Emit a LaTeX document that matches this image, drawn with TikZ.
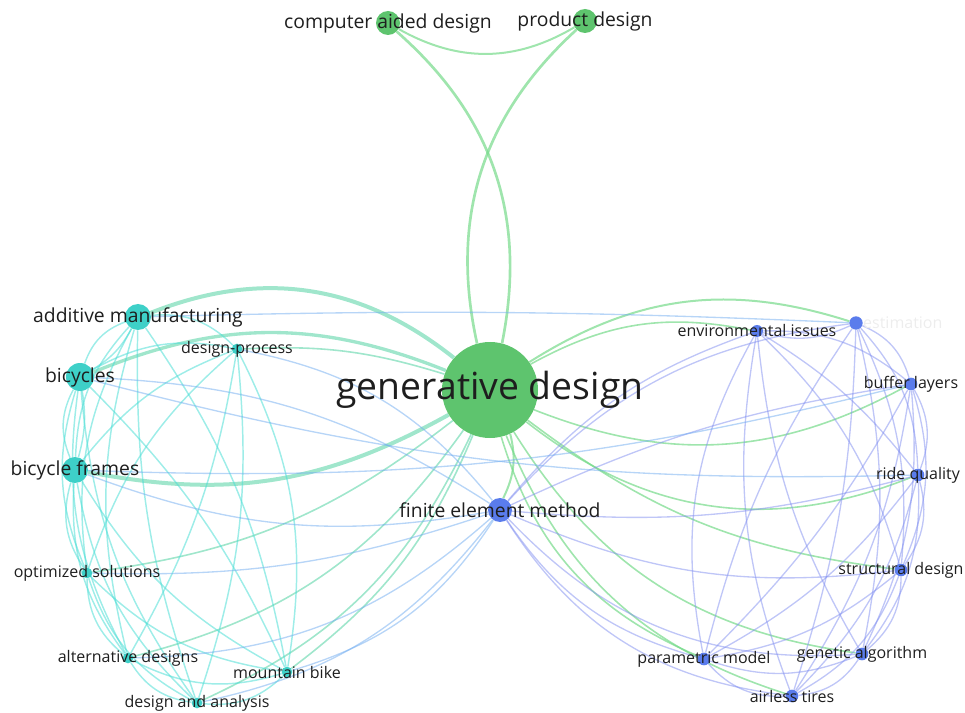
\documentclass[tikz,border=0pt]{standalone}
\usepackage{fontspec}
\setmainfont{Open Sans}
\usetikzlibrary{backgrounds}

\definecolor{gdgreen}{RGB}{94,196,110}
\definecolor{tealnode}{RGB}{62,208,200}
\definecolor{bluenode}{RGB}{90,124,236}
\definecolor{greenline}{RGB}{118,218,138}
\definecolor{mixline}{RGB}{96,214,170}
\definecolor{tealline}{RGB}{78,222,214}
\definecolor{blueline}{RGB}{128,142,240}
\definecolor{crossline}{RGB}{112,172,240}
\definecolor{labeltext}{RGB}{30,30,30}

\begin{document}
\begin{tikzpicture}[x=0.75pt,y=-0.75pt,
  kw/.style={circle,inner sep=0pt,minimum size=#1},
  gkw/.style={kw=#1,fill=gdgreen},
  tkw/.style={kw=#1,fill=tealnode},
  bkw/.style={kw=#1,fill=bluenode},
  lhuge/.style={font=\fontsize{28}{31}\selectfont,text=labeltext,inner sep=0pt},
  lbig/.style={font=\fontsize{14.5}{16}\selectfont,text=labeltext,inner sep=0pt},
  lsmall/.style={font=\fontsize{12}{13}\selectfont,text=labeltext,inner sep=0pt},
  lfade/.style={font=\fontsize{12}{13}\selectfont,text=black!7,inner sep=0pt},
  gedge/.style={draw=greenline,opacity=.7},
  mixedge/.style={draw=mixline,opacity=.6},
  tedge/.style={draw=tealline,line width=1.1pt,opacity=.55},
  bedge/.style={draw=blueline,line width=1pt,opacity=.5},
  xedge/.style={draw=crossline,line width=1pt,opacity=.5}]
\useasboundingbox (0,0) rectangle (965,713);

% green cluster
\node[gkw=72pt,label={[lhuge]center:generative design}] (gd) at (490,390) {};
\node[gkw=18pt,label={[lbig]center:computer aided design}] (cad) at (388,23) {};
\node[gkw=18pt,label={[lbig]center:product design}] (pd) at (585,21) {};

% teal cluster
\node[tkw=19.5pt,label={[lbig]center:additive manufacturing}] (am) at (138,317) {};
\node[tkw=21pt,label={[lbig]center:bicycles}] (bic) at (80,377) {};
\node[tkw=19.5pt,label={[lbig]center:bicycle frames}] (bf) at (75,470) {};
\node[tkw=8pt,label={[lsmall]center:design-process}] (dp) at (237,349) {};
\node[tkw=8pt,label={[lsmall]center:optimized solutions}] (os) at (87,573) {};
\node[tkw=8pt,label={[lsmall]center:alternative designs}] (ad) at (128,658) {};
\node[tkw=8pt,label={[lsmall]center:design and analysis}] (da) at (197,703) {};
\node[tkw=8pt,label={[lsmall]center:mountain bike}] (mb) at (287,672) {};

% blue cluster
\node[bkw=18pt,label={[lbig]center:finite element method}] (fem) at (500,510) {};
\node[bkw=9pt,label={[lsmall]center:environmental issues}] (env) at (757,331) {};
\node[bkw=10pt,label={[lfade]east:estimation}] (est) at (856,323) {};
\node[bkw=9.5pt,label={[lsmall]center:buffer layers}] (bl) at (911,384) {};
\node[bkw=9.5pt,label={[lsmall]center:ride quality}] (rq) at (918,475) {};
\node[bkw=9.5pt,label={[lsmall]center:structural design}] (sd) at (901,570) {};
\node[bkw=9.5pt,label={[lsmall]center:genetic algorithm}] (ga) at (862,654) {};
\node[bkw=9.5pt,label={[lsmall]center:parametric model}] (pm) at (704,659) {};
\node[bkw=9.5pt,label={[lsmall]center:airless tires}] (at) at (792,696) {};

\begin{scope}[on background layer]
% links of generative design
\foreach \a/\b/\w/\lw in {cad/gd/30/2, pd/gd/-30/2, cad/pd/-30/1.5,
    gd/est/25/1.5, gd/env/20/1.2, gd/bl/-25/1.2, gd/rq/-30/1.2, gd/sd/-15/1.2,
    gd/ga/-25/1.2, gd/pm/-25/1.2, gd/at/-25/1.2, gd/fem/20/1.5}
  \draw[gedge,line width=\lw pt] (\a) to[bend left=\w] (\b);
\foreach \a/\b/\w/\lw in {am/gd/30/3, bic/gd/22/2.5, bf/gd/-20/3, dp/gd/10/1.2,
    os/gd/-15/1.2, ad/gd/-20/1.2, da/gd/-20/1.2, mb/gd/-15/1.2}
  \draw[mixedge,line width=\lw pt] (\a) to[bend left=\w] (\b);

% teal cluster
\foreach \a/\b/\w in {am/bic/25, bic/am/15, am/bf/20, am/os/18, am/ad/15,
    am/da/10, mb/am/12, dp/am/25, bic/bf/25, bf/bic/12, bic/os/20, bic/ad/18,
    bic/da/15, mb/bic/10, dp/bic/20, bf/os/25, bf/ad/20, bf/da/18, bf/mb/15,
    dp/bf/15, os/ad/25, os/da/22, os/mb/18, dp/os/15, ad/da/25, ad/mb/22,
    ad/dp/10, da/mb/25, da/dp/12, mb/dp/18}
  \draw[tedge] (\a) to[bend right=\w] (\b);

% blue cluster
\foreach \a/\b/\w in {env/pm/20, env/at/15, env/ga/12, sd/env/15, rq/env/10,
    bl/env/20, env/est/20, est/pm/10, at/est/8, ga/est/12, sd/est/15, rq/est/20,
    bl/est/25, pm/bl/8, at/bl/12, ga/bl/15, sd/bl/20, rq/bl/25, pm/rq/12,
    at/rq/15, ga/rq/20, sd/rq/25, pm/sd/15, at/sd/20, ga/sd/25, pm/ga/20,
    at/ga/25, pm/at/25,
    fem/env/-15, fem/est/-20, fem/bl/-8, fem/rq/10, fem/sd/15, fem/ga/25,
    fem/pm/20, fem/at/25}
  \draw[bedge] (\a) to[bend right=\w] (\b);

% links between teal and blue
\foreach \a/\b/\w in {bf/fem/15, os/fem/10, dp/fem/-20, da/fem/20, mb/fem/20,
    ad/fem/20, bic/fem/-15, bf/bl/8, bic/rq/8, am/est/-2}
  \draw[xedge] (\a) to[bend right=\w] (\b);
\end{scope}
\end{tikzpicture}
\end{document}
